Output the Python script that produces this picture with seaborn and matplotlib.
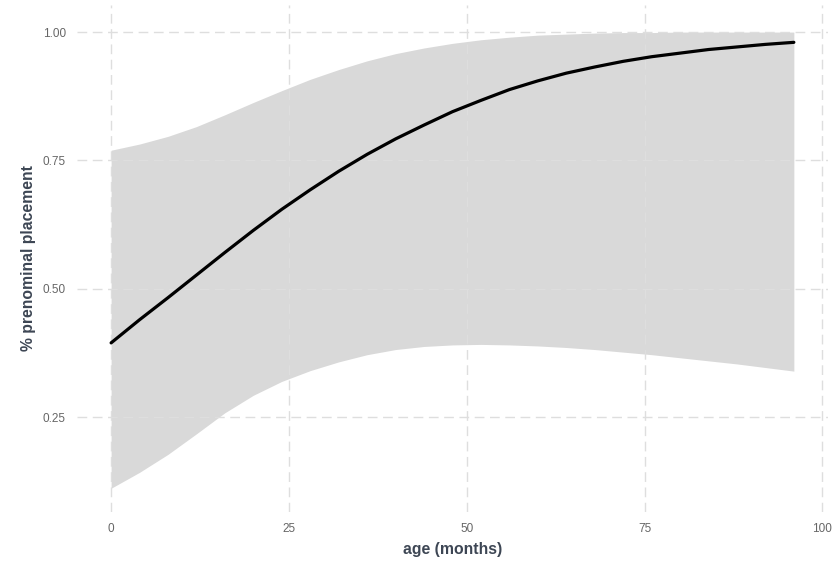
import numpy as np
import pandas as pd
import matplotlib
matplotlib.use("Agg")
import matplotlib.pyplot as plt
import seaborn as sns

# Fitted probability of prenominal placement by age, with its confidence band
age_months = [0, 4, 8, 12, 16, 20, 24, 28, 32, 36, 40, 44, 48,
              52, 56, 60, 64, 68, 72, 76, 80, 84, 88, 92, 96]
fit = [0.395, 0.440, 0.483, 0.527, 0.571, 0.614, 0.655, 0.693, 0.729,
       0.762, 0.792, 0.819, 0.845, 0.867, 0.888, 0.905, 0.920, 0.932,
       0.943, 0.952, 0.959, 0.966, 0.971, 0.976, 0.980]
upper = [0.770, 0.782, 0.797, 0.816, 0.839, 0.863, 0.886, 0.908, 0.927,
         0.944, 0.958, 0.969, 0.978, 0.985, 0.990, 0.994, 0.996, 0.998,
         0.999, 0.999, 1.000, 1.000, 1.000, 1.000, 1.000]
lower = [0.112, 0.143, 0.178, 0.218, 0.259, 0.293, 0.320, 0.341, 0.358,
         0.372, 0.382, 0.388, 0.391, 0.392, 0.391, 0.389, 0.386, 0.382,
         0.377, 0.372, 0.366, 0.360, 0.354, 0.347, 0.340]

x_ticks = [0, 25, 50, 75, 100]
y_ticks = [0.25, 0.50, 0.75, 1.00]
y_tick_labels = ["0.25", "0.50", "0.75", "1.00"]

df = pd.DataFrame({"age": age_months, "fit": fit, "lower": lower, "upper": upper})

sns.set_theme(style="white")
plt.rcParams["font.family"] = ["Liberation Sans", "DejaVu Sans"]

fig = plt.figure(figsize=(8.34, 5.65), dpi=100)
ax = fig.add_axes([0.0923, 0.094, 0.9005, 0.897])

ax.fill_between(df["age"], df["lower"], df["upper"], color="#d9d9d9",
                linewidth=0, zorder=1)
sns.lineplot(data=df, x="age", y="fit", color="black", linewidth=2.3,
             ax=ax, zorder=3)

ax.set_xlim(-4.8, 100.8)
ax.set_ylim(0.066, 1.0525)
ax.set_xticks(x_ticks)
ax.set_yticks(y_ticks)
ax.set_yticklabels(y_tick_labels)

ax.grid(True, color="#dedede", linestyle=(0, (7, 4)), linewidth=1.0, zorder=2)
ax.set_axisbelow(False)
for spine in ax.spines.values():
    spine.set_visible(False)
ax.tick_params(axis="both", length=0, labelsize=8.5, labelcolor="#666666", pad=8)

ax.set_xlabel("age (months)", fontsize=11.3, fontweight="bold",
              color="#3d4654", labelpad=5)
ax.set_ylabel("% prenominal placement", fontsize=11.3, fontweight="bold",
              color="#3d4654", labelpad=5)

fig.savefig("out.png", dpi=100, facecolor="white")
